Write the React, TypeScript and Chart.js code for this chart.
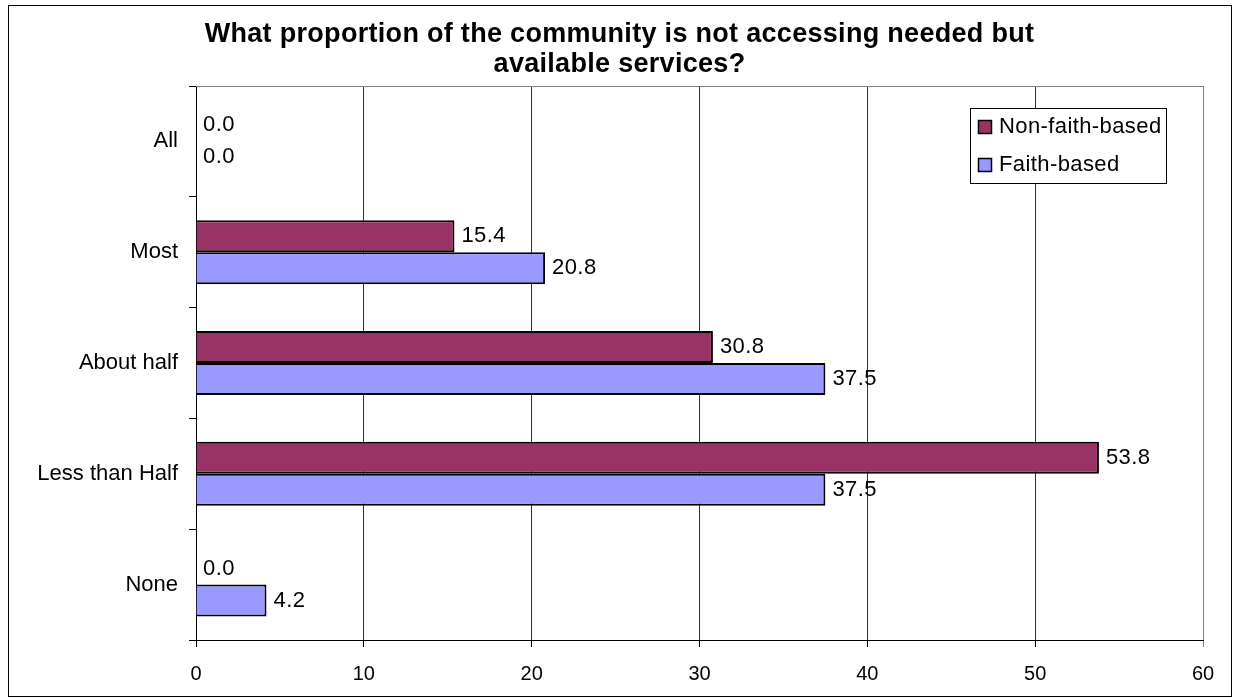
import React, { useEffect, useRef } from "react";
import { Chart, registerables } from "chart.js";

Chart.register(...registerables);

const categories = ["All", "Most", "About half", "Less than Half", "None"];
const nonFaithValues = [0.0, 15.4, 30.8, 53.8, 0.0];
const faithValues = [0.0, 20.8, 37.5, 37.5, 4.2];
const seriesNames = ["Non-faith-based", "Faith-based"];
const seriesColors = ["#993366", "#9999FF"];
const titleLines = [
  "What proportion of the community is not accessing needed but",
  "available services?",
];
const xMin = 0;
const xMax = 60;
const xStep = 10;

const FONT = '"Liberation Sans", Arial, sans-serif';

const decorPlugin = {
  id: "decor",
  beforeDraw(chart: any) {
    const { ctx, width, height } = chart;
    ctx.save();
    ctx.fillStyle = "#ffffff";
    ctx.fillRect(0, 0, width, height);
    ctx.restore();
  },
  afterDraw(chart: any) {
    const { ctx, chartArea } = chart;
    ctx.save();
    // outer border
    ctx.strokeStyle = "#000000";
    ctx.lineWidth = 1;
    ctx.strokeRect(8.5, 5.5, 1223, 691);
    // top border of plot area
    ctx.strokeStyle = "#808080";
    ctx.beginPath();
    ctx.moveTo(chartArea.left, chartArea.top + 0.5);
    ctx.lineTo(chartArea.right, chartArea.top + 0.5);
    ctx.stroke();
    // title
    ctx.fillStyle = "#000000";
    ctx.font = `bold 27px ${FONT}`;
    try { (ctx as any).letterSpacing = "0.3px"; } catch (e) {}
    ctx.textAlign = "center";
    ctx.textBaseline = "alphabetic";
    ctx.fillText(titleLines[0], 619.5, 41.5);
    ctx.fillText(titleLines[1], 619.5, 71.5);
    try { (ctx as any).letterSpacing = "0.4px"; } catch (e) {}
    // data labels
    ctx.font = `22px ${FONT}`;
    ctx.textAlign = "left";
    ctx.textBaseline = "middle";
    chart.data.datasets.forEach((ds: any, di: number) => {
      const meta = chart.getDatasetMeta(di);
      meta.data.forEach((bar: any, i: number) => {
        const v = ds.data[i];
        ctx.fillText(v.toFixed(1), bar.x + 7, bar.y);
      });
    });
    // legend
    const lx = 970.5, ly = 108.5, lw = 196, lh = 75;
    ctx.fillStyle = "#ffffff";
    ctx.fillRect(lx, ly, lw, lh);
    ctx.strokeStyle = "#000000";
    ctx.lineWidth = 1;
    ctx.strokeRect(lx, ly, lw, lh);
    const rows = [127, 165];
    seriesNames.forEach((name, i) => {
      const cy = rows[i];
      ctx.fillStyle = seriesColors[i];
      ctx.fillRect(978.5, cy - 6.5, 13, 13);
      ctx.strokeStyle = "#000000";
      ctx.lineWidth = 1.5;
      ctx.strokeRect(978.5, cy - 6.5, 13, 13);
      ctx.fillStyle = "#000000";
      ctx.font = `22px ${FONT}`;
      ctx.textAlign = "left";
      ctx.textBaseline = "middle";
      ctx.fillText(name, 999, cy);
    });
    ctx.restore();
  },
};

export default function App() {
  const canvasRef = useRef<HTMLCanvasElement | null>(null);

  useEffect(() => {
    if (!canvasRef.current) return;
    const chart = new Chart(canvasRef.current, {
      type: "bar",
      data: {
        labels: categories,
        datasets: [
          {
            label: seriesNames[0],
            data: nonFaithValues,
            backgroundColor: seriesColors[0],
            borderColor: "#000000",
            borderWidth: 2,
            categoryPercentage: 0.578,
            barPercentage: 1,
          },
          {
            label: seriesNames[1],
            data: faithValues,
            backgroundColor: seriesColors[1],
            borderColor: "#000000",
            borderWidth: 2,
            categoryPercentage: 0.578,
            barPercentage: 1,
          },
        ],
      },
      options: {
        indexAxis: "y",
        responsive: false,
        animation: false,
        devicePixelRatio: 1,
        layout: { padding: { left: 0, top: 86, right: 32, bottom: 0 } },
        plugins: {
          legend: { display: false },
          title: { display: false },
          tooltip: { enabled: false },
        },
        scales: {
          x: {
            type: "linear",
            min: xMin,
            max: xMax,
            position: "bottom",
            ticks: {
              stepSize: xStep,
              color: "#000000",
              font: { family: FONT, size: 20 },
              padding: 15,
            },
            grid: {
              drawOnChartArea: true,
              tickLength: 7,
              color: (c: any) => (c.tick && c.tick.value === xMax ? "#808080" : "#333333"),
              tickColor: (c: any) => (c.tick && c.tick.value === xMax ? "#808080" : "#000000"),
              lineWidth: 1,
            },
            border: { color: "#000000", width: 1 },
            afterFit: (scale: any) => {
              scale.height = 58;
            },
          },
          y: {
            type: "category",
            ticks: {
              color: "#000000",
              font: { family: FONT, size: 22 },
              padding: 11,
            },
            grid: {
              drawOnChartArea: false,
              tickLength: 7,
              tickColor: "#000000",
              offset: true,
            },
            border: { color: "#000000", width: 1 },
            afterFit: (scale: any) => {
              scale.width = 196;
            },
          },
        },
      },
      plugins: [decorPlugin],
    } as any);
    return () => chart.destroy();
  }, []);

  return (
    <div
      style={{
        position: "fixed",
        left: 0,
        top: 0,
        width: 1235,
        height: 698,
        background: "#ffffff",
      }}
    >
      <canvas ref={canvasRef} width={1235} height={698} style={{ display: "block" }} />
    </div>
  );
}
